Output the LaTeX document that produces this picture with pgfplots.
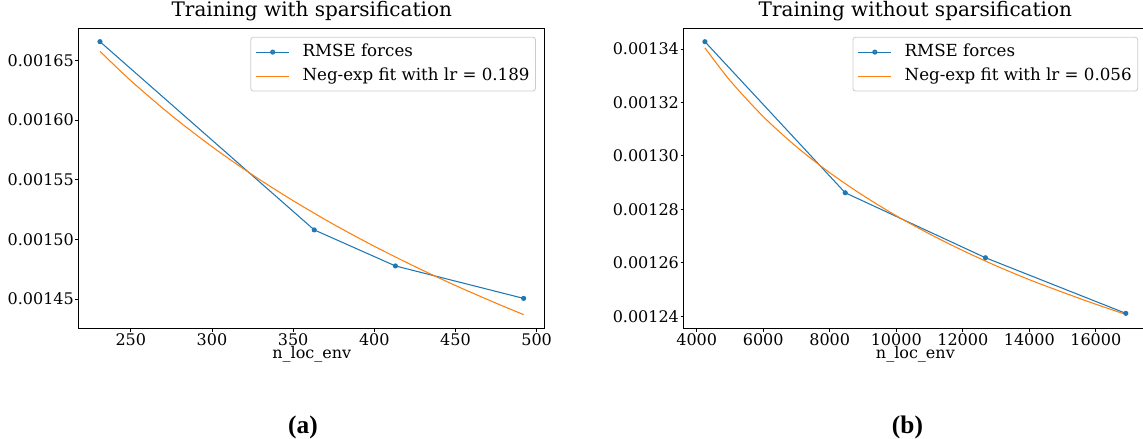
\documentclass[border=0pt]{standalone}
\usepackage{pgfplots}
\pgfplotsset{compat=1.18}
\usepackage{fontspec}
\setmainfont{DejaVu Serif}
\newfontfamily\capfont{Liberation Serif}
\definecolor{mplblue}{HTML}{1F77B4}
\definecolor{mplorange}{HTML}{FF7F0E}

\pgfplotsset{
  mystyle/.style={
    scale only axis,
    height=225.2pt,
    axis line style={line width=0.8pt, black},
    tick align=outside,
    xtick pos=left, ytick pos=left,
    major tick length=2.5pt,
    tick style={black, line width=0.6pt},
    /pgf/number format/assume math mode=true,
    /pgf/number format/1000 sep={},
    scaled x ticks=false, scaled y ticks=false,
    tick label style={font=\fontsize{12}{14}\selectfont},
    yticklabel style={inner sep=1pt, /pgf/number format/.cd, fixed, fixed zerofill, precision=5},
    xticklabel style={inner sep=1pt},
    title style={at={(0.5,1)}, anchor=base, yshift=3pt, font=\fontsize{15}{17}\selectfont},
    xlabel style={at={(0.5,0)}, anchor=base, yshift=-23pt, font=\fontsize{12}{14}\selectfont},
    legend cell align=left,
    legend style={anchor=north east, draw=black!20, line width=0.6pt, rounded corners=2pt,
      fill=white, fill opacity=0.8, text opacity=1,
      font=\fontsize{12.5}{14}\selectfont,
      inner xsep=3.5pt, inner ysep=4pt, row sep=3.6pt, column sep=8.5pt,
      nodes={inner sep=1pt, text height=9.2pt, text depth=3.2pt}},
    legend image code/.code={\draw[mark repeat=2,mark phase=2,#1] plot coordinates {(0pt,0pt) (12.5pt,0pt) (25pt,0pt)};},
  },
  blueline/.style={color=mplblue, draw=mplblue, line width=0.8pt, mark=*, mark size=1.5pt, mark options={solid, draw=mplblue, fill=mplblue}},
  orangeline/.style={color=mplorange, draw=mplorange, line width=0.8pt, no marks, smooth},
}

\pgfplotstableread{
x y
231 0.0016657
363 0.0015079
413 0.0014777
492 0.0014505
}\leftdata

\pgfplotstableread{
x y
231 0.0016576
250 0.0016330
275 0.0016039
300 0.0015777
325 0.0015540
350 0.0015324
375 0.0015125
400 0.0014942
425 0.0014772
450 0.0014613
475 0.0014465
492 0.0014369
}\leftfit

\pgfplotstableread{
x y
4247 0.0013427
8465 0.0012862
12682 0.0012619
16902 0.0012411
}\rightdata

\pgfplotstableread{
x y
4247 0.0013404
5000 0.0013282
6000 0.0013147
7000 0.0013034
8000 0.0012937
9000 0.0012852
10000 0.0012776
11000 0.0012708
12000 0.0012646
13000 0.0012589
14000 0.0012537
15000 0.0012490
16000 0.0012445
16902 0.0012407
}\rightfit

\begin{document}
\begin{tikzpicture}
\begin{axis}[mystyle,
  at={(59.1pt,83pt)}, anchor=south west, width=349.5pt,
  xmin=217.95, xmax=505.05, ymin=0.0014254, ymax=0.0016771,
  xtick={250,300,350,400,450,500},
  ytick={0.00145,0.0015,0.00155,0.0016,0.00165},
  title={Training with sparsification},
  xlabel={n\_loc\_env},
  legend style={at={(0.981,0.971)}},
]
\addplot[blueline] table[x=x,y=y] {\leftdata};
\addlegendentry{RMSE forces}
\addplot[orangeline] table[x=x,y=y] {\leftfit};
\addlegendentry{Neg-exp fit with lr = 0.189}
\end{axis}

\begin{axis}[mystyle,
  at={(512.9pt,83pt)}, anchor=south west, width=347.25pt,
  xmin=3614, xmax=17535, ymin=0.0012355, ymax=0.0013478,
  xtick={4000,6000,8000,10000,12000,14000,16000},
  ytick={0.00124,0.00126,0.00128,0.0013,0.00132,0.00134},
  title={Training without sparsification},
  xlabel={n\_loc\_env},
  legend style={at={(0.981,0.971)}},
]
\addplot[blueline] table[x=x,y=y] {\rightdata};
\addlegendentry{RMSE forces}
\addplot[orangeline] table[x=x,y=y] {\rightfit};
\addlegendentry{Neg-exp fit with lr = 0.056}
\end{axis}

\node[font=\capfont\bfseries\fontsize{19}{21}\selectfont, anchor=base] at (227.2pt,4pt) {(a)};
\node[font=\capfont\bfseries\fontsize{19}{21}\selectfont, anchor=base] at (680.6pt,4pt) {(b)};

\pgfresetboundingbox
\path[use as bounding box] (0,0) rectangle (857.25pt,329.25pt);
\end{tikzpicture}
\end{document}
